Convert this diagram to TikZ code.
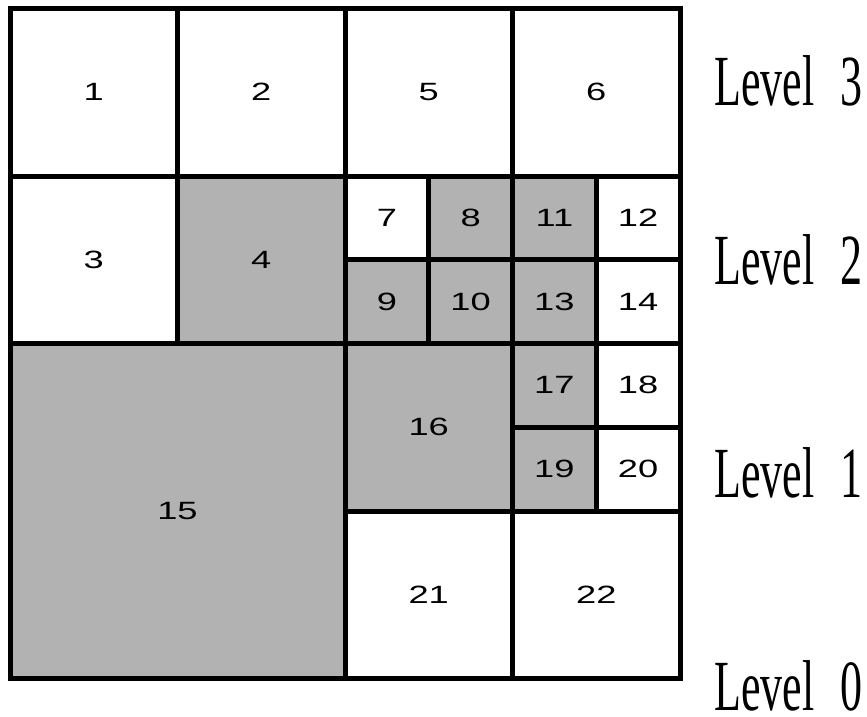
\documentclass[tikz,border=0pt]{standalone}
\usepackage{fontspec}
\setmainfont{Liberation Sans}
\newfontfamily\lvlfont{Liberation Serif}
\newcommand\cellnum[1]{\scalebox{1.45}[1]{#1}}
\newcommand\lvltext[1]{\scalebox{1.1}[1.8]{Level\hspace{0.6em}#1}}
\begin{document}
\begin{tikzpicture}[x=1pt,y=-1pt,
  cell/.style={draw=black, line width=5pt, anchor=north west, inner sep=0pt, outer sep=0pt,
    font=\fontsize{25}{25}\selectfont},
  big/.style={minimum width=167.5pt, minimum height=167.5pt},
  small/.style={minimum width=83.75pt, minimum height=83.75pt},
  huge/.style={minimum width=335pt, minimum height=335pt},
  shaded/.style={fill=black!30},
  plain/.style={fill=white},
  lvl/.style={anchor=base west, inner sep=0pt, font=\lvlfont\fontsize{40}{40}\selectfont}]
\useasboundingbox[fill=white] (0,0) rectangle (867,717);
% big cells
\node[cell,big,plain]  (c1)  at (10,8.5) {\cellnum{1}};
\node[cell,big,plain]  (c2)  at (177.5,8.5) {\cellnum{2}};
\node[cell,big,plain]  (c5)  at (345,8.5) {\cellnum{5}};
\node[cell,big,plain]  (c6)  at (512.5,8.5) {\cellnum{6}};
\node[cell,big,plain]  (c3)  at (10,176) {\cellnum{3}};
\node[cell,big,shaded] (c4)  at (177.5,176) {\cellnum{4}};
\node[cell,huge,shaded] (c15) at (10,343.5) {\cellnum{15}};
\node[cell,big,shaded] (c16) at (345,343.5) {\cellnum{16}};
\node[cell,big,plain]  (c21) at (345,511) {\cellnum{21}};
\node[cell,big,plain]  (c22) at (512.5,511) {\cellnum{22}};
% small cells
\node[cell,small,plain]  (c7)  at (345,176) {\cellnum{7}};
\node[cell,small,shaded] (c8)  at (428.75,176) {\cellnum{8}};
\node[cell,small,shaded] (c9)  at (345,259.75) {\cellnum{9}};
\node[cell,small,shaded] (c10) at (428.75,259.75) {\cellnum{10}};
\node[cell,small,shaded] (c11) at (512.5,176) {\cellnum{11}};
\node[cell,small,plain]  (c12) at (596.25,176) {\cellnum{12}};
\node[cell,small,shaded] (c13) at (512.5,259.75) {\cellnum{13}};
\node[cell,small,plain]  (c14) at (596.25,259.75) {\cellnum{14}};
\node[cell,small,shaded] (c17) at (512.5,343.5) {\cellnum{17}};
\node[cell,small,plain]  (c18) at (596.25,343.5) {\cellnum{18}};
\node[cell,small,shaded] (c19) at (512.5,427.25) {\cellnum{19}};
\node[cell,small,plain]  (c20) at (596.25,427.25) {\cellnum{20}};
% level labels
\node[lvl] (l3) at (714,105) {\lvltext{3}};
\node[lvl] (l2) at (714,284) {\lvltext{2}};
\node[lvl] (l1) at (714,497) {\lvltext{1}};
\node[lvl] (l0) at (714,710) {\lvltext{0}};
\end{tikzpicture}
\end{document}
